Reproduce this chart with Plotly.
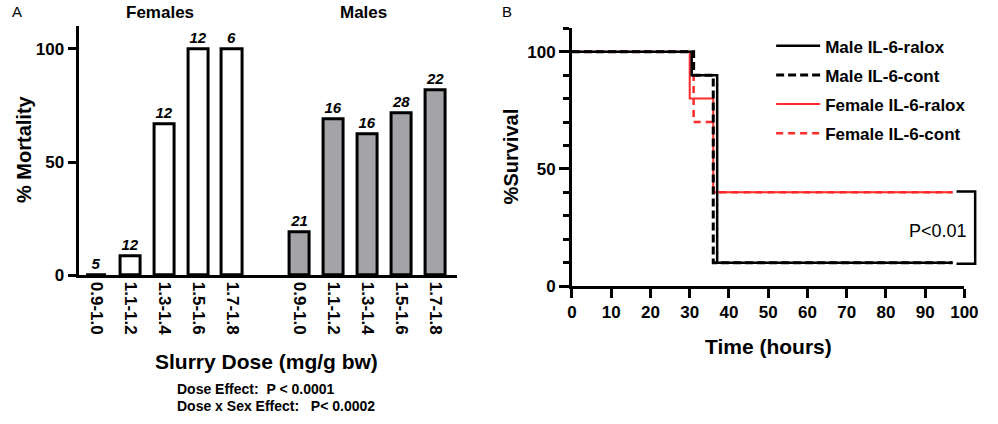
import plotly.graph_objects as go

# ---------------- data ----------------
dose_labels = ["0.9-1.0", "1.1-1.2", "1.3-1.4", "1.5-1.6", "1.7-1.8"]
female_pos = [0, 1, 2, 3, 4]
male_pos = [6, 7, 8, 9, 10]
female_mortality = [0, 8.3, 66.7, 100, 100]
female_n = [5, 12, 12, 12, 6]
male_mortality = [19.0, 68.8, 62.5, 71.4, 81.8]
male_n = [21, 16, 16, 28, 22]

male_ralox_t = [0, 30.5, 37, 97]
male_ralox_s = [100, 90, 10, 10]
male_cont_t = [0, 31, 36, 97]
male_cont_s = [100, 90, 10, 10]
female_ralox_t = [0, 30, 36, 97]
female_ralox_s = [100, 80, 40, 40]
female_cont_t = [0, 31, 36, 97]
female_cont_s = [100, 70, 40, 40]

W, H = 998, 424
FONT = "Liberation Sans, Arial, sans-serif"


def px(x):
    return x / W


def py(y):
    return 1 - y / H


fig = go.Figure()

barfont = dict(family=FONT, size=15, color="black", weight="bold", style="italic")
fig.add_trace(go.Bar(
    x=female_pos, y=female_mortality, text=female_n, width=0.6,
    marker=dict(color="white", line=dict(color="black", width=3)),
    textposition="outside", textfont=barfont, constraintext="none",
    cliponaxis=False, showlegend=False, xaxis="x", yaxis="y"))
fig.add_trace(go.Bar(
    x=male_pos, y=male_mortality, text=male_n, width=0.6,
    marker=dict(color="#a4a4a8", line=dict(color="black", width=3)),
    textposition="outside", textfont=barfont, constraintext="none",
    cliponaxis=False, showlegend=False, xaxis="x", yaxis="y"))

RED = "#ff2a2a"
fig.add_trace(go.Scatter(x=female_cont_t, y=female_cont_s, mode="lines", line_shape="hv",
                         line=dict(color=RED, width=2.5, dash="7px,5px"),
                         name="Female IL-6-cont", legendgroup="d", legendrank=4,
                         xaxis="x2", yaxis="y2", cliponaxis=False))
fig.add_trace(go.Scatter(x=female_ralox_t, y=female_ralox_s, mode="lines", line_shape="hv",
                         line=dict(color=RED, width=2),
                         name="Female IL-6-ralox", legendgroup="c", legendrank=3,
                         xaxis="x2", yaxis="y2", cliponaxis=False))
fig.add_trace(go.Scatter(x=male_cont_t, y=male_cont_s, mode="lines", line_shape="hv",
                         line=dict(color="black", width=3, dash="8px,4px"),
                         name="Male IL-6-cont", legendgroup="b", legendrank=2,
                         xaxis="x2", yaxis="y2", cliponaxis=False))
fig.add_trace(go.Scatter(x=male_ralox_t, y=male_ralox_s, mode="lines", line_shape="hv",
                         line=dict(color="black", width=2.5),
                         name="Male IL-6-ralox", legendgroup="a", legendrank=1,
                         xaxis="x2", yaxis="y2", cliponaxis=False))

tickfont = dict(family=FONT, size=17, color="black", weight="bold")

fig.update_layout(
    width=W, height=H, autosize=False, margin=dict(l=0, r=0, t=0, b=0),
    paper_bgcolor="white", plot_bgcolor="white",
    showlegend=True, bargap=0,
    font=dict(family=FONT, color="black"),
    xaxis=dict(domain=[px(75), px(461)], range=[-0.54, 10.65],
               tickvals=female_pos + male_pos, ticktext=dose_labels * 2,
               tickangle=90, tickfont=tickfont, ticks="", showline=True,
               linewidth=3, linecolor="black", showgrid=False, zeroline=False,
               fixedrange=True),
    yaxis=dict(domain=[py(282), py(26.8)], range=[0, 110], tickvals=[0, 50, 100],
               ticks="outside", ticklen=8, tickwidth=3, tickcolor="black",
               tickfont=tickfont, showline=True, linewidth=3, linecolor="black",
               showgrid=False, zeroline=False),
    xaxis2=dict(domain=[px(578), px(978)], range=[0, 100], dtick=10, tick0=0,
                ticks="outside", ticklen=9, tickwidth=3, tickcolor="black",
                tickfont=tickfont, showline=True, linewidth=3, linecolor="black",
                showgrid=False, zeroline=False, anchor="y2"),
    yaxis2=dict(domain=[py(293), py(29)], range=[0, 110], tickvals=[0, 50, 100],
                ticks="outside", ticklen=10, tickwidth=3, tickcolor="black",
                minor=dict(dtick=10, tick0=0, ticks="outside", ticklen=6, tickwidth=2.5,
                           tickcolor="black"),
                tickfont=tickfont, showline=True, linewidth=3, linecolor="black",
                showgrid=False, zeroline=False, anchor="x2"),
    legend=dict(x=px(781), y=py(29), xanchor="left", yanchor="top",
                font=dict(family=FONT, size=17, color="black", weight="bold"),
                bgcolor="rgba(0,0,0,0)", tracegroupgap=4, itemwidth=44,
                traceorder="grouped"),
)

ann = []


def add_text(x, y, text, size, bold=True, angle=0, xanchor="center", yanchor="middle"):
    ann.append(dict(x=px(x), y=py(y), xref="paper", yref="paper", text=text,
                    showarrow=False, textangle=angle, xanchor=xanchor, yanchor=yanchor,
                    font=dict(family=FONT, size=size, color="black",
                              weight="bold" if bold else "normal")))


add_text(5, 12, "A", 15, bold=False, xanchor="left")
add_text(505, 12, "B", 15, bold=False, xanchor="left")
add_text(158, 13, "Females", 17)
add_text(365, 13, "Males", 17)
add_text(20, 153, "% Mortality", 20, angle=-90)
add_text(267, 370, "Slurry Dose (mg/g bw)", 21)
add_text(173, 398, "Dose Effect:  P &lt; 0.0001", 14, xanchor="left")
add_text(173, 416, "Dose x Sex Effect:   P&lt; 0.0002", 14, xanchor="left")
add_text(516, 160, "%Survival", 20, angle=-90)
add_text(778, 355, "Time (hours)", 21)
add_text(983, 237, "P&lt;0.01", 18, bold=False, xanchor="right")

fig.update_layout(annotations=ann)

# significance bracket (right panel), in paper coordinates
bx0, bx1, by0, by1 = px(970), px(989), py(196), py(270)
fig.add_shape(type="path", xref="paper", yref="paper",
              path=f"M {bx0},{by0} L {bx1},{by0} L {bx1},{by1} L {bx0},{by1}",
              line=dict(color="black", width=2.5))

fig.write_html(
    "out.html",
    config={"displayModeBar": False},
    post_script="document.body.style.margin='0px';document.body.style.padding='0px';"
                "document.documentElement.style.overflow='hidden';"
                "document.body.style.overflow='hidden';",
)
